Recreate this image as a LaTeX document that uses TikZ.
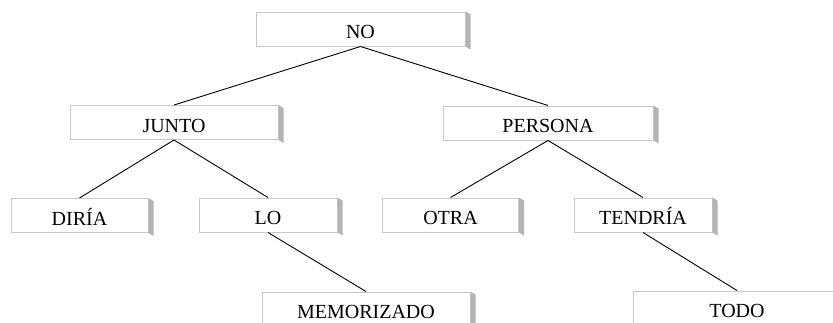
\documentclass[tikz,border=0pt]{standalone}
\usepackage{fontspec}
\setmainfont{Liberation Serif}
\usetikzlibrary{calc}
\definecolor{shadowgray}{HTML}{B4B4B4}
\definecolor{bordergray}{HTML}{C8C8C8}
\begin{document}
\begin{tikzpicture}[x=1pt,y=-1pt,
  wordbox/.style={draw=bordergray,line width=1pt,fill=white,inner sep=0pt,
    minimum height=34pt,text height=19.2pt,text depth=0pt,
    font=\fontsize{20}{24}\selectfont},
  link/.style={line width=0.9pt,black}]
\useasboundingbox (0,0) rectangle (833,322);
\begin{scope}
\clip (0,0) rectangle (833,322);
\node[wordbox,minimum width=209pt] (no) at (360.5,29) {NO};
\node[wordbox,minimum width=208pt] (junto) at (174,122.5) {JUNTO};
\node[wordbox,minimum width=210pt] (persona) at (548,123) {PERSONA};
\node[wordbox,minimum width=137pt] (diria) at (79.5,215.5) {DIRÍA};
\node[wordbox,minimum width=138pt] (lo) at (268,215) {LO};
\node[wordbox,minimum width=136pt] (otra) at (450.5,215) {OTRA};
\node[wordbox,minimum width=138pt] (tendria) at (643,215) {TENDRÍA};
\node[wordbox,minimum width=208pt] (memorizado) at (366,309) {MEMORIZADO};
\node[wordbox,minimum width=208pt] (todo) at (737,308) {TODO};
\foreach \n in {no,junto,persona,diria,lo,otra,tendria,memorizado,todo}{
  \fill[shadowgray] (\n.north east) -- ++(5,3) -- ($(\n.south east)+(5,3)$) -- (\n.south east) -- cycle;
}
\draw[link] (no.south) -- (junto.north);
\draw[link] (no.south) -- (persona.north);
\draw[link] (junto.south) -- (diria.north);
\draw[link] (junto.south) -- (lo.north);
\draw[link] (persona.south) -- (otra.north);
\draw[link] (persona.south) -- (tendria.north);
\draw[link] (lo.south) -- (memorizado.north);
\draw[link] (tendria.south) -- (todo.north);
\end{scope}
\end{tikzpicture}
\end{document}
